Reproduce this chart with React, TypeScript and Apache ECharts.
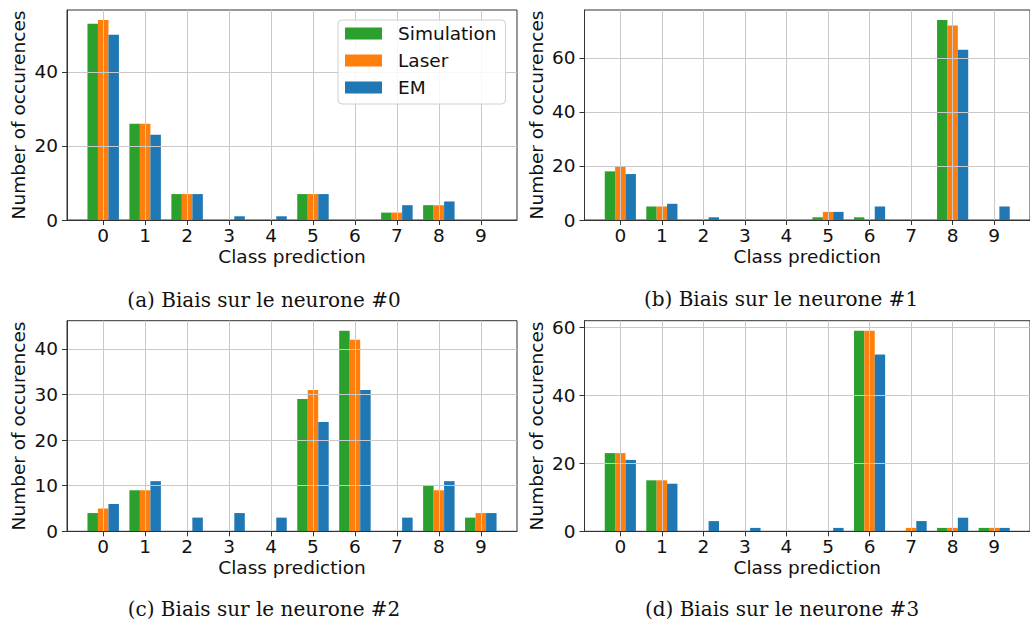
import { useEffect, useRef } from 'react';
import * as echarts from 'echarts';

// Predicted classes on the x axis
const CLASSES = [0, 1, 2, 3, 4, 5, 6, 7, 8, 9];
const SOURCES = ['Simulation', 'Laser', 'EM'];

// Neuron #0
const neuron0Simulation = [53, 26, 7, 0, 0, 7, 0, 2, 4, 0];
const neuron0Laser = [54, 26, 7, 0, 0, 7, 0, 2, 4, 0];
const neuron0EM = [50, 23, 7, 1, 1, 7, 0, 4, 5, 0];
// Neuron #1
const neuron1Simulation = [18, 5, 0, 0, 0, 1, 1, 0, 74, 0];
const neuron1Laser = [20, 5, 0, 0, 0, 3, 0, 0, 72, 0];
const neuron1EM = [17, 6, 1, 0, 0, 3, 5, 0, 63, 5];
// Neuron #2
const neuron2Simulation = [4, 9, 0, 0, 0, 29, 44, 0, 10, 3];
const neuron2Laser = [5, 9, 0, 0, 0, 31, 42, 0, 9, 4];
const neuron2EM = [6, 11, 3, 4, 3, 24, 31, 3, 11, 4];
// Neuron #3
const neuron3Simulation = [23, 15, 0, 0, 0, 0, 59, 0, 1, 1];
const neuron3Laser = [23, 15, 0, 0, 0, 0, 59, 1, 1, 1];
const neuron3EM = [21, 14, 3, 1, 0, 1, 52, 3, 4, 1];

const yTicks0 = [0, 20, 40];
const yTicks1 = [0, 20, 40, 60];
const yTicks2 = [0, 10, 20, 30, 40];
const yTicks3 = [0, 20, 40, 60];

const captions = [
  '(a) Biais sur le neurone #0',
  '(b) Biais sur le neurone #1',
  '(c) Biais sur le neurone #2',
  '(d) Biais sur le neurone #3',
];

const COLORS = ['#2ca02c', '#ff7f0e', '#1f77b4'];
const SANS = 'DejaVu Sans';
const SERIF = 'DejaVu Serif';
const FS = 18.5;

const panels = [
  { values: [neuron0Simulation, neuron0Laser, neuron0EM], yTicks: yTicks0 },
  { values: [neuron1Simulation, neuron1Laser, neuron1EM], yTicks: yTicks1 },
  { values: [neuron2Simulation, neuron2Laser, neuron2EM], yTicks: yTicks2 },
  { values: [neuron3Simulation, neuron3Laser, neuron3EM], yTicks: yTicks3 },
];

// Layout of the 2x2 panels
const COL_LEFT = [67, 584.5];
const ROW_TOP = [10, 320.7];
const PLOT_W = 450;
const PLOT_H = [210, 210.6];
const CAPTION_POS = [
  [264, 299.5],
  [781, 299],
  [264, 608.5],
  [782, 608.6],
];

const BAR_W = 0.25;

function buildOption() {
  const lo = -1.5 * BAR_W;
  const hi = CLASSES[CLASSES.length - 1] + 1.5 * BAR_W;
  const pad = 0.05 * (hi - lo);

  const grid: any[] = [];
  const xAxis: any[] = [];
  const yAxis: any[] = [];
  const series: any[] = [];

  panels.forEach((p, i) => {
    const col = i % 2;
    const row = Math.floor(i / 2);
    grid.push({
      left: COL_LEFT[col],
      top: ROW_TOP[row],
      width: PLOT_W,
      height: PLOT_H[row],
      show: true,
      borderColor: '#333',
      borderWidth: 1,
      backgroundColor: 'transparent',
    });
    const peak = Math.max(...p.values.flat());
    xAxis.push({
      type: 'value',
      gridIndex: i,
      min: lo - pad,
      max: hi + pad,
      splitNumber: 10,
      minInterval: 1,
      maxInterval: 1,
      z: 3,
      name: 'Class prediction',
      nameLocation: 'middle',
      nameGap: 27,
      nameTextStyle: { fontFamily: SANS, fontSize: FS, color: '#111' },
      axisLine: { show: true, onZero: false, lineStyle: { color: '#333', width: 1 } },
      axisTick: { show: true, length: 5, customValues: CLASSES, lineStyle: { color: '#333' } },
      axisLabel: { customValues: CLASSES, margin: 6, fontFamily: SANS, fontSize: FS, color: '#111' },
      splitLine: { show: true, lineStyle: { color: '#c9c9c9', width: 1 } },
    });
    yAxis.push({
      type: 'value',
      gridIndex: i,
      min: 0,
      max: peak * 1.05,
      interval: p.yTicks[1] - p.yTicks[0],
      z: 3,
      name: 'Number of occurences',
      nameLocation: 'middle',
      nameGap: 39,
      nameTextStyle: { fontFamily: SANS, fontSize: FS, color: '#111' },
      axisLine: { show: true, onZero: false, lineStyle: { color: '#333', width: 1 } },
      axisTick: { show: true, length: 5, customValues: p.yTicks, lineStyle: { color: '#333' } },
      axisLabel: { customValues: p.yTicks, margin: 9, fontFamily: SANS, fontSize: FS, color: '#111' },
      splitLine: { show: true, lineStyle: { color: '#c9c9c9', width: 1 } },
    });
    SOURCES.forEach((name, s) => {
      series.push({
        type: 'bar',
        name,
        xAxisIndex: i,
        yAxisIndex: i,
        barWidth: `${BAR_W * 100}%`,
        barGap: '0%',
        z: 2,
        itemStyle: { color: COLORS[s] },
        data: p.values[s].map((v, k) => [CLASSES[k], v]),
      });
    });
  });

  return {
    animation: false,
    backgroundColor: '#fff',
    grid,
    xAxis,
    yAxis,
    series,
    legend: {
      data: SOURCES,
      orient: 'vertical',
      left: 338,
      top: 20,
      itemWidth: 37,
      itemHeight: 12,
      itemGap: 8,
      padding: [4, 9, 7, 7],
      backgroundColor: 'rgba(255,255,255,0.85)',
      borderColor: '#d0d0d0',
      borderWidth: 1,
      borderRadius: 4,
      icon: 'rect',
      textStyle: { fontFamily: SANS, fontSize: FS, color: '#111', padding: [0, 0, 0, 11] },
    },
    graphic: captions.map((text, i) => ({
      type: 'text',
      x: CAPTION_POS[i][0],
      y: CAPTION_POS[i][1],
      style: {
        text,
        fontFamily: SERIF,
        fontSize: 20,
        fill: '#111',
        textAlign: 'center',
        textVerticalAlign: 'middle',
      },
    })),
  };
}

export default function App() {
  const ref = useRef<HTMLDivElement>(null);
  useEffect(() => {
    if (!ref.current) return;
    const chart = echarts.init(ref.current, undefined, { renderer: 'svg' });
    chart.setOption(buildOption() as any);
    return () => chart.dispose();
  }, []);
  return (
    <div
      ref={ref}
      style={{ position: 'fixed', left: 0, top: 0, width: 1030, height: 626, background: '#fff' }}
    />
  );
}
